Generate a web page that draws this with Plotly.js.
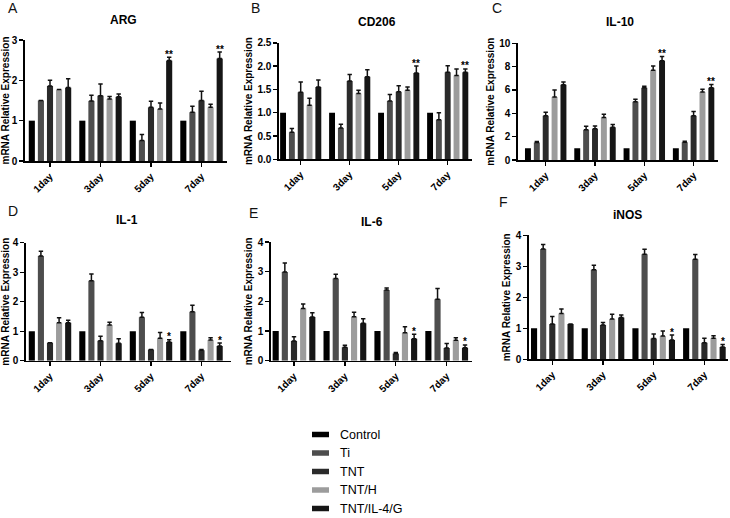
<!DOCTYPE html>
<html><head><meta charset="utf-8">
<script src="https://cdn.plot.ly/plotly-3.0.1.min.js"></script>
<style>html,body{margin:0;padding:0;background:#fff}#chart{width:730px;height:518px}</style>
</head><body><div id="chart"></div>
<script>
// ---------------- DATA ----------------
const days = ['1day', '3day', '5day', '7day'];
const groups = ['Control', 'Ti', 'TNT', 'TNT/H', 'TNT/IL-4/G'];
const panelNames = ['ARG', 'CD206', 'IL-10', 'IL-1', 'IL-6', 'iNOS'];
const panelLetters = ['A', 'B', 'C', 'D', 'E', 'F'];
const yTitle = 'mRNA Relative Expression';

// rows follow groups order: Control, Ti, TNT, TNT/H, TNT/IL-4/G
const argMean = [[1, 1, 1, 1], [1.50, 1.49, 0.51, 1.21], [1.86, 1.62, 1.33, 1.50], [1.77, 1.54, 1.29, 1.33], [1.82, 1.59, 2.49, 2.54]];
const argErr  = [[null, null, null, null], [null, 0.14, 0.15, 0.15], [0.14, 0.29, 0.15, 0.23], [null, 0.06, 0.15, 0.08], [0.22, 0.07, 0.08, 0.16]];
const argStars = ['', '', '**', '**'];

const cd206Mean = [[1, 1, 1, 1], [0.58, 0.67, 1.25, 0.85], [1.44, 1.68, 1.45, 1.87], [1.16, 1.41, 1.48, 1.80], [1.55, 1.77, 1.85, 1.87]];
const cd206Err  = [[null, null, null, null], [0.08, 0.08, 0.14, 0.15], [0.22, 0.14, 0.13, 0.14], [0.15, 0.07, 0.07, 0.14], [0.15, 0.15, 0.15, 0.07]];
const cd206Stars = ['', '', '**', '**'];

const il10Mean = [[1, 1, 1, 1], [1.50, 2.60, 5.00, 1.52], [3.80, 2.67, 6.20, 3.80], [5.40, 3.65, 7.69, 5.83], [6.45, 2.80, 8.50, 6.20]];
const il10Err  = [[null, null, null, null], [0.09, 0.29, 0.20, 0.09], [0.30, 0.25, 0.11, 0.35], [0.60, 0.26, 0.37, 0.23], [0.23, 0.25, 0.37, 0.28]];
const il10Stars = ['', '', '**', '**'];

const il1Mean = [[1, 1, 1, 1], [3.55, 2.71, 1.47, 1.66], [0.61, 0.68, 0.38, 0.35], [1.29, 1.21, 0.76, 0.70], [1.29, 0.59, 0.63, 0.50]];
const il1Err  = [[null, null, null, null], [0.16, 0.23, 0.16, 0.22], [null, 0.15, null, 0.03], [0.17, 0.09, 0.20, 0.08], [0.08, 0.15, 0.08, 0.10]];
const il1Stars = ['', '', '*', '*'];

const il6Mean = [[1, 1, 1, 1], [2.99, 2.77, 2.38, 2.07], [0.66, 0.45, 0.24, 0.43], [1.76, 1.48, 0.94, 0.69], [1.47, 1.26, 0.74, 0.44]];
const il6Err  = [[null, null, null, null], [0.30, 0.14, 0.07, 0.36], [0.15, 0.07, 0.04, 0.15], [0.15, 0.15, 0.20, 0.08], [0.15, 0.15, 0.15, 0.09]];
const il6Stars = ['', '', '*', '*'];

const inosMean = [[1, 1, 1, 1], [3.56, 2.89, 3.39, 3.23], [1.14, 1.11, 0.67, 0.53], [1.48, 1.30, 0.75, 0.68], [1.14, 1.35, 0.62, 0.40]];
const inosErr  = [[null, null, null, null], [0.14, 0.14, 0.16, 0.15], [0.24, 0.08, 0.15, 0.15], [0.14, 0.15, 0.16, 0.08], [null, 0.08, 0.16, 0.08]];
const inosStars = ['', '', '*', '*'];

const allMeans = [argMean, cd206Mean, il10Mean, il1Mean, il6Mean, inosMean];
const allErrs = [argErr, cd206Err, il10Err, il1Err, il6Err, inosErr];
const allStars = [argStars, cd206Stars, il10Stars, il1Stars, il6Stars, inosStars];
const yMax = [3, 2.5, 10, 4, 4, 4];
const yDtick = [1, 0.5, 2, 1, 1, 1];

// ---------------- STYLE / LAYOUT ----------------
const W = 730, H = 518;
const FONT = 'Liberation Sans, Arial, Helvetica, sans-serif';
const groupColors = ['#000000', '#4d4d4d', '#2a2a2a', '#9c9c9c', '#161616'];
// pixel geometry per panel: left, right, top, bottom of plot area; centre of first group; group pitch
const geo = [
  {L: 25, R: 227, T: 40, B: 161, c0: 50, p: 50.5, tx: 123, ty: 20, lx: 6, ly: 8, fmt: ''},
  {L: 279, R: 472, T: 42.8, B: 159.3, c0: 300.7, p: 49, tx: 377, ty: 22, lx: 249, ly: 8, fmt: '.1f'},
  {L: 518, R: 718, T: 43.3, B: 160, c0: 545.7, p: 49.3, tx: 620, ty: 22, lx: 490, ly: 8, fmt: ''},
  {L: 26, R: 231, T: 242.7, B: 360.7, c0: 50, p: 50.5, tx: 127, ty: 220, lx: 6, ly: 211, fmt: ''},
  {L: 271, R: 472, T: 242, B: 360.7, c0: 294, p: 50.9, tx: 372, ty: 222, lx: 247, ly: 213, fmt: ''},
  {L: 529, R: 728, T: 235.3, B: 359.3, c0: 552.3, p: 50.7, tx: 627, ty: 215, lx: 497, ly: 202, fmt: ''}
];
// custom legend geometry (px)
const LEG = {sx0: 312, sx1: 329, sh: 5.5, tx: 338, y0: 434.5, dy: 18.5};
const BARGAP = 0.1;
const slot = (1 - BARGAP) / groups.length;

const traces = [];
const layout = {
  width: W, height: H,
  margin: {l: 0, r: 0, t: 0, b: 0},
  paper_bgcolor: '#fff', plot_bgcolor: '#fff',
  barmode: 'group', bargap: BARGAP, bargroupgap: 0.33,
  font: {family: FONT, color: '#000'},
  showlegend: false,
  annotations: [],
  shapes: []
};

panelNames.forEach((name, k) => {
  const g = geo[k];
  const xa = k === 0 ? 'x' : 'x' + (k + 1);
  const ya = k === 0 ? 'y' : 'y' + (k + 1);
  const xKey = k === 0 ? 'xaxis' : 'xaxis' + (k + 1);
  const yKey = k === 0 ? 'yaxis' : 'yaxis' + (k + 1);
  const means = allMeans[k], errs = allErrs[k];

  groups.forEach((grp, gi) => {
    const e = errs[gi];
    const hasErr = e.some(v => v !== null);
    traces.push({
      type: 'bar', name: grp, legendgroup: grp,
      x: days, y: means[gi], xaxis: xa, yaxis: ya,
      marker: {color: groupColors[gi], line: {width: 0}},
      error_y: {type: 'data', visible: hasErr, symmetric: false, array: e,
                arrayminus: e.map(v => v === null ? null : 0),
                color: '#111', thickness: 1.5, width: 2.2},
      hoverinfo: 'skip'
    });
  });

  layout[xKey] = {
    domain: [g.L / W, g.R / W], anchor: ya, type: 'category',
    range: [(g.L - g.c0) / g.p, (g.R - g.c0) / g.p],
    showline: true, linecolor: '#000', linewidth: 1.6,
    ticks: 'outside', ticklen: 4, tickwidth: 1.4, tickcolor: '#000',
    tickangle: -45, tickfont: {family: FONT, size: 10, color: '#000', weight: 'bold'},
    showgrid: false, zeroline: false, fixedrange: true
  };
  layout[yKey] = {
    domain: [1 - g.B / H, 1 - g.T / H], anchor: xa,
    range: [0, yMax[k]], dtick: yDtick[k], tick0: 0, tickformat: g.fmt,
    showline: true, linecolor: '#000', linewidth: 1.6,
    ticks: 'outside', ticklen: 4, tickwidth: 1.4, tickcolor: '#000',
    tickfont: {family: FONT, size: 10, color: '#000', weight: 'bold'},
    title: {text: yTitle, font: {family: FONT, size: 10, color: '#000', weight: 'bold'}, standoff: 3},
    showgrid: false, zeroline: false, fixedrange: true
  };

  // panel title
  layout.annotations.push({xref: 'paper', yref: 'paper', x: g.tx / W, y: 1 - g.ty / H,
    text: name, showarrow: false, xanchor: 'center', yanchor: 'middle',
    font: {family: FONT, size: 12, color: '#000', weight: 'bold'}});
  // panel letter
  layout.annotations.push({xref: 'paper', yref: 'paper', x: g.lx / W, y: 1 - g.ly / H,
    text: panelLetters[k], showarrow: false, xanchor: 'left', yanchor: 'middle',
    font: {family: FONT, size: 14, color: '#111'}});
  // significance stars above last group bar
  const last = groups.length - 1;
  allStars[k].forEach((s, i) => {
    if (!s) return;
    const top = means[last][i] + (errs[last][i] || 0);
    layout.annotations.push({xref: xa, yref: ya, x: i + (last - (groups.length - 1) / 2) * slot,
      y: top, text: s, showarrow: false, xanchor: 'center', yanchor: 'middle', yshift: 3,
      font: {family: FONT, size: 10, color: '#000', weight: 'bold'}});
  });
});

// legend (swatches + labels) placed below the panels
groups.forEach((grp, gi) => {
  const cy = LEG.y0 + gi * LEG.dy;
  layout.shapes.push({type: 'rect', xref: 'paper', yref: 'paper',
    x0: LEG.sx0 / W, x1: LEG.sx1 / W, y0: 1 - (cy + LEG.sh / 2) / H, y1: 1 - (cy - LEG.sh / 2) / H,
    fillcolor: groupColors[gi], line: {width: 0}});
  layout.annotations.push({xref: 'paper', yref: 'paper', x: LEG.tx / W, y: 1 - cy / H,
    text: grp, showarrow: false, xanchor: 'left', yanchor: 'middle',
    font: {family: FONT, size: 12.5, color: '#000'}});
});

Plotly.newPlot('chart', traces, layout, {staticPlot: true, displayModeBar: false});
</script>
</body></html>
